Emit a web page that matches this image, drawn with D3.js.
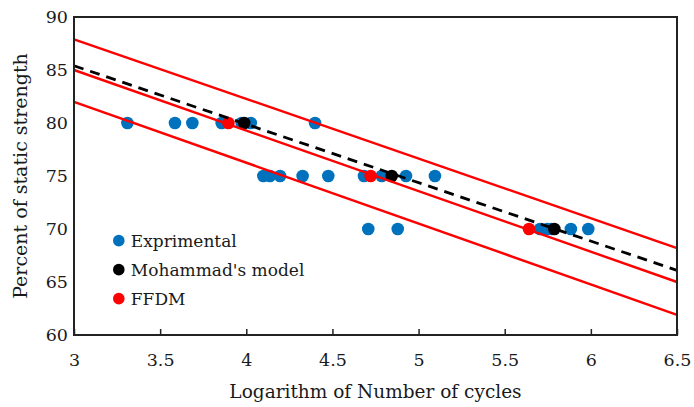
<!DOCTYPE html>
<html>
<head>
<meta charset="utf-8">
<script src="https://cdn.jsdelivr.net/npm/d3@7"></script>
<style>
  body { margin: 0; background: #fff; }
  text { font-family: "DejaVu Serif", serif; fill: #1a1a1a; }
</style>
</head>
<body>
<div id="wrapper"></div>
<script>
// data
const expX = [3.31, 3.586, 3.687, 3.857, 3.973, 4.026, 4.399,
              4.099, 4.137, 4.196, 4.327, 4.476, 4.683, 4.786, 4.927, 5.095,
              4.708, 4.879,
              5.705, 5.747, 5.77, 5.884, 5.985]
const expY = [80, 80, 80, 80, 80, 80, 80,
              75, 75, 75, 75, 75, 75, 75, 75, 75,
              70, 70,
              70, 70, 70, 70, 70]
const modelX = [3.988, 4.844, 5.788]
const modelY = [80, 75, 70]
const ffdmX = [3.896, 4.722, 5.641]
const ffdmY = [80, 75, 70]

// fitted lines: [y at x=3, y at x=6.5]
const lineEnds = [3, 6.5]
const ffdmUpper = [87.9, 68.2]
const ffdmMid = [85.0, 65.0]
const ffdmLower = [82.0, 61.9]
const modelLine = [85.4, 66.1]

const xTicks = [3, 3.5, 4, 4.5, 5, 5.5, 6, 6.5]
const yTicks = [60, 65, 70, 75, 80, 85, 90]
const legendNames = ["Exprimental", "Mohammad's model", "FFDM"]
const legendColors = ["#0072BD", "#000000", "#ff0000"]

const dimensions = {
  width: 694,
  height: 407,
  margin: { top: 17, right: 17, bottom: 72, left: 74 },
}
dimensions.boundedWidth = dimensions.width - dimensions.margin.left - dimensions.margin.right
dimensions.boundedHeight = dimensions.height - dimensions.margin.top - dimensions.margin.bottom

const svg = d3.select("#wrapper").append("svg")
  .attr("width", dimensions.width)
  .attr("height", dimensions.height)

const bounds = svg.append("g")
  .attr("transform", `translate(${dimensions.margin.left},${dimensions.margin.top})`)

const x = d3.scaleLinear().domain([3, 6.5]).range([0, dimensions.boundedWidth])
const y = d3.scaleLinear().domain([60, 90]).range([dimensions.boundedHeight, 0])

// points
const dots = bounds.append("g")
const drawDots = (xs, ys, color) => dots.append("g")
  .selectAll("circle")
  .data(xs.map((d, i) => [d, ys[i]]))
  .join("circle")
    .attr("cx", d => x(d[0]))
    .attr("cy", d => y(d[1]))
    .attr("r", 6.3)
    .attr("fill", color)

drawDots(expX, expY, legendColors[0])
drawDots(ffdmX, ffdmY, legendColors[2])
drawDots(modelX, modelY, legendColors[1])

// lines
const line = d3.line().x(d => x(d[0])).y(d => y(d[1]))
const drawLine = (vals, color, dash, w) => bounds.append("path")
  .datum(lineEnds.map((d, i) => [d, vals[i]]))
  .attr("d", line)
  .attr("fill", "none")
  .attr("stroke", color)
  .attr("stroke-width", w)
  .attr("stroke-dasharray", dash)

drawLine(ffdmUpper, "#ff0000", null, 2.4)
drawLine(ffdmMid, "#ff0000", null, 2.4)
drawLine(ffdmLower, "#ff0000", null, 2.4)
drawLine(modelLine, "#000", "10,7", 2.8)

// axes
const xAxis = d3.axisBottom(x).tickValues(xTicks).tickSizeInner(-6).tickSizeOuter(0)
  .tickPadding(19).tickFormat(d3.format("~g"))
const yAxis = d3.axisLeft(y).tickValues(yTicks).tickSize(0).tickPadding(6)

const xg = bounds.append("g")
  .attr("transform", `translate(0,${dimensions.boundedHeight})`)
  .call(xAxis)
const yg = bounds.append("g").call(yAxis)
xg.select(".domain").remove()
yg.select(".domain").remove()
xg.selectAll("line").attr("stroke", "#222").attr("stroke-width", 1.5)
xg.selectAll("text").style("font-size", "17.5px")
yg.selectAll("text").style("font-size", "17.5px")

bounds.append("rect")
  .attr("width", dimensions.boundedWidth)
  .attr("height", dimensions.boundedHeight)
  .attr("fill", "none")
  .attr("stroke", "#222")
  .attr("stroke-width", 2)

// legend
const legend = bounds.append("g")
  .attr("transform", `translate(${x(3.26)},${y(68.9)})`)
const legendItem = legend.selectAll("g")
  .data(legendNames)
  .join("g")
    .attr("transform", (d, i) => `translate(0,${i * 29})`)
legendItem.append("circle")
  .attr("r", 5.8)
  .attr("fill", (d, i) => legendColors[i])
legendItem.append("text")
  .attr("x", 12)
  .attr("dy", "0.35em")
  .style("font-size", "17px")
  .text(d => d)

// axis titles
svg.append("text")
  .attr("x", dimensions.margin.left + dimensions.boundedWidth / 2)
  .attr("y", 398)
  .attr("text-anchor", "middle")
  .style("font-size", "18.5px")
  .text("Logarithm of Number of cycles")

svg.append("text")
  .attr("transform", `translate(27,${dimensions.margin.top + dimensions.boundedHeight / 2}) rotate(-90)`)
  .attr("text-anchor", "middle")
  .style("font-size", "19px")
  .text("Percent of static strength")
</script>
</body>
</html>
